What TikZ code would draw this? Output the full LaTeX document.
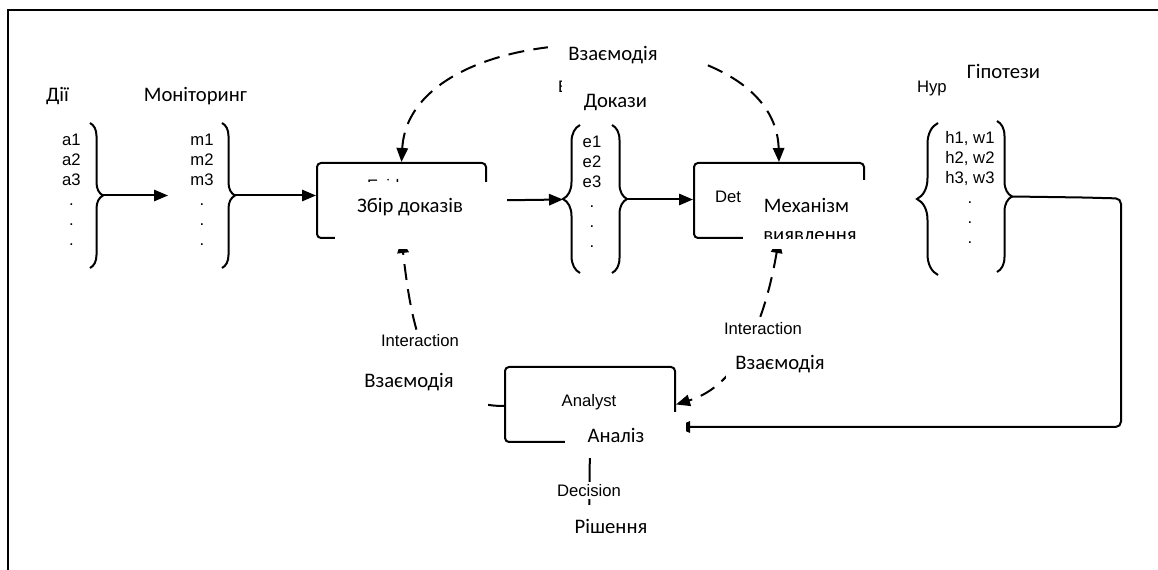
\documentclass[tikz,border=0pt]{standalone}
\usepackage{fontspec}
\setmainfont{Carlito}
\newfontfamily\arialf{Liberation Sans}
\usetikzlibrary{arrows.meta,decorations.pathreplacing}
\begin{document}
\begin{tikzpicture}[x=0.75pt,y=-0.75pt,
  line width=1.5pt,
  box/.style={draw, rounded corners=3pt, anchor=north west, inner sep=0pt},
  ua/.style={font=\fontsize{15.5}{18}\selectfont, inner sep=0pt, anchor=base},
  en/.style={font=\arialf\fontsize{12.5}{15}\selectfont, inner sep=0pt, anchor=base},
  lst/.style={font=\arialf\fontsize{12.5}{15}\selectfont, inner sep=0pt, anchor=north, align=center},
  arr/.style={-{Triangle[length=10.5pt,width=8.5pt]}},
  arrb/.style={{Triangle[length=10.5pt,width=8.5pt]}-{Triangle[length=10.5pt,width=8.5pt]}},
  dsh/.style={dash pattern=on 12pt off 7pt},
  brc/.style={decorate, decoration={brace, amplitude=#1}},
  cover/.style={fill=white, draw=none},
]
\useasboundingbox (0,0) rectangle (1158,570);
% frame
\draw (1158,10) -- (8,10) -- (8,570);

% boxes
\node[box, minimum width=126.75pt, minimum height=56.25pt] (b1) at (316,162) {};
\node[box, minimum width=127.5pt, minimum height=56.25pt] (b2) at (693,162) {};
\node[box, minimum width=127.5pt, minimum height=56.25pt] (an) at (504,366) {};

% original english texts (remnants)
\node[en, anchor=base west] (evb) at (366,191.5) {Evidence};
\node[en, anchor=base west] (det) at (714,203) {Det};
\node[en] (anl) at (589,406.5) {Analyst};
\node[en, anchor=base west] (evt) at (557,93) {E};
\node[en, anchor=base west] (hyp) at (916,93) {Hyp};

% lists
\node[lst] (la) at (71.5,133.5) {a1\\a2\\a3\\.\\.\\.};
\node[lst] (lm) at (202,133.5) {m1\\m2\\m3\\.\\.\\.};
\node[lst] (le) at (592,135) {e1\\e2\\e3\\.\\.\\.};
\node[lst] (lh) at (970,130.5) {h1, w1\\h2, w2\\h3, w3\\.\\.\\.};

% braces
\draw[brc=9.75pt] (90,123) -- (90,268);
\draw[brc=9.75pt] (222,123) -- (222,268);
\draw[brc=12.75pt] (580,273) -- (580,125);
\draw[brc=11.25pt] (612,125) -- (612,273);
\draw[brc=15.75pt] (938,275) -- (938,123);
\draw[brc=11.25pt] (997,121) -- (997,272);
\coordinate (ta) at (103,195.5);
\coordinate (tm) at (235,195.5);
\coordinate (tel) at (563,199.5);
\coordinate (ter) at (627,199.5);
\coordinate (th) at (1012,196.5);
\coordinate (am) at (168,195.5);
\coordinate (fb) at (1121,427);
\coordinate (dec) at (589,525);
\coordinate (anw) at (504,406);

% solid connectors
\draw[arr] (ta) -- (am);
\draw[arr] (tm) -- (tm -| b1.west);
\draw[arr] (b1.east) -- (tel);
\draw[arr] (ter) -- (ter -| b2.west);
\draw[arr, rounded corners=4pt] (th) -- (1083,197.5) -- (1121,198.5) -- (fb) -- (fb -| an.east);
\draw (an.south) -- (dec);
\node[en, fill=white, inner xsep=1pt, inner ysep=1.5pt] (dl) at (589,496.5) {Decision};

% dashed interactions
\draw[dsh, arrb] (b1.north) .. controls (410,10) and (775,10) .. (b2.north);
\draw[dsh, arr] (anw) .. controls (425,406) and (412,330) .. (b1.south);
\draw[dsh, arrb] (b2.south) .. controls (765,320) and (740,385) .. (an.east);
\node[en, fill=white, inner xsep=1pt, inner ysep=3pt] (il) at (420,347) {Interaction};
\node[en, fill=white, inner xsep=1pt, inner ysep=3pt] (ir) at (763,335) {Interaction};

% translation overlays
\fill[cover] (335,182) rectangle (507,249);
\node[ua] (t1) at (410,213) {Збір доказів};
\fill[cover] (743,180) rectangle (870,249);
\begin{scope}
\clip (743,180) rectangle (870,239);
\node[ua] (t2) at (806.5,212.5) {Механізм};
\node[ua] (t3) at (810,242) {виявлення};
\end{scope}
\fill[cover] (565,412) rectangle (686,458);
\node[ua] (t4) at (616,443) {Аналіз};
\fill[cover] (560,505) rectangle (665,550);
\node[ua] (t5) at (611,533.5) {Рішення};
\fill[cover] (355,349) rectangle (488,418);
\node[ua] (t6) at (409,387.7) {Взаємодія};
\fill[cover] (726,338) rectangle (835,396);
\node[ua] (t7) at (780,370) {Взаємодія};
\fill[cover] (548,28) rectangle (705,78);
\node[ua] (t8) at (613,60.7) {Взаємодія};
\fill[cover] (562,80) rectangle (672,118);
\node[ua] (t9) at (615.5,108) {Докази};
\fill[cover] (946,55) rectangle (1070,100);
\node[ua] (t10) at (1003.5,79) {Гіпотези};
\node[ua] (t11) at (57.5,102) {Дії};
\node[ua] (t12) at (195.5,102) {Моніторинг};
\end{tikzpicture}
\end{document}
